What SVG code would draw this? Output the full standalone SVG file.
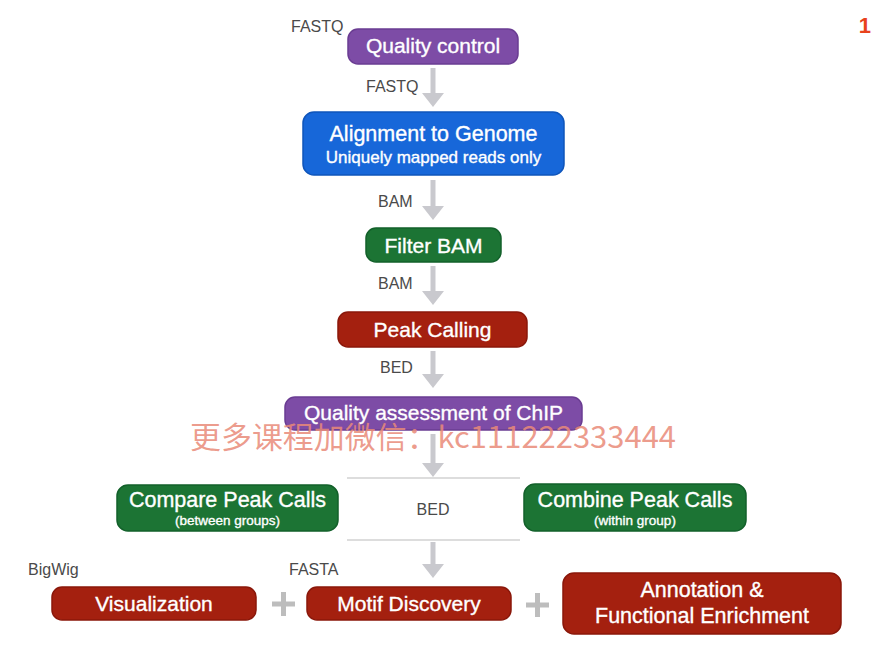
<svg xmlns="http://www.w3.org/2000/svg" width="873" height="651" viewBox="0 0 873 651">
<defs>
<style>
.t{font-family:"Liberation Sans",Arial,sans-serif;fill:#fff;text-anchor:middle;stroke:#fff;stroke-width:0.35}
.lbl{font-family:"Liberation Sans",Arial,sans-serif;fill:#4a4a4a;font-size:16px}
.purple{fill:#7d4ca6;stroke:#6a3c92;stroke-width:1.5}
.blue{fill:#1767d9;stroke:#0f55bb;stroke-width:1.5}
.green{fill:#1c7434;stroke:#12602a;stroke-width:1.5}
.red{fill:#a4200f;stroke:#8a170a;stroke-width:1.5}
.shaft{stroke:#c9c9ce;stroke-width:5;fill:none}
.head{fill:#c9c9ce}
.sep{stroke:#d2d2d2;stroke-width:1.5}
.plus{stroke:#bdbdbd;stroke-width:5}
</style>
</defs>
<rect width="873" height="651" fill="#fff"/>

<g id="connectors">
<line class="shaft" x1="433" y1="68" x2="433" y2="94"/><polygon class="head" points="422,93 444,93 433,107"/>
<line class="shaft" x1="433" y1="180" x2="433" y2="207"/><polygon class="head" points="422,206 444,206 433,220"/>
<line class="shaft" x1="433" y1="266" x2="433" y2="292"/><polygon class="head" points="422,291 444,291 433,305"/>
<line class="shaft" x1="433" y1="351" x2="433" y2="375"/><polygon class="head" points="422,374 444,374 433,388"/>
<line class="shaft" x1="433" y1="434" x2="433" y2="464"/><polygon class="head" points="422,463 444,463 433,477"/>
<line class="shaft" x1="433" y1="542" x2="433" y2="565"/><polygon class="head" points="422,564 444,564 433,578"/>
<line class="sep" x1="347" y1="478" x2="520" y2="478"/>
<line class="sep" x1="347" y1="540" x2="520" y2="540"/>
<line class="plus" x1="272" y1="604" x2="295" y2="604"/><line class="plus" x1="283.5" y1="592" x2="283.5" y2="616"/>
<line class="plus" x1="526" y1="605" x2="549" y2="605"/><line class="plus" x1="537.5" y1="593" x2="537.5" y2="617"/>
</g>

<g id="labels">
<text class="lbl" x="291" y="32">FASTQ</text>
<text class="lbl" x="366" y="92">FASTQ</text>
<text class="lbl" x="378" y="207">BAM</text>
<text class="lbl" x="378" y="289">BAM</text>
<text class="lbl" x="380" y="373">BED</text>
<text class="lbl" x="433" y="515" text-anchor="middle">BED</text>
<text class="lbl" x="28" y="575">BigWig</text>
<text class="lbl" x="289" y="575">FASTA</text>
</g>

<g id="quality-control">
<rect class="purple" x="348" y="29" width="170" height="35" rx="10"/>
<text class="t" x="433" y="53" font-size="21">Quality control</text>
</g>

<g id="alignment">
<rect class="blue" x="303" y="112" width="261" height="63" rx="11"/>
<text class="t" x="433.5" y="141" font-size="21.5">Alignment to Genome</text>
<text class="t" x="433.5" y="163" font-size="17">Uniquely mapped reads only</text>
</g>

<g id="filter-bam">
<rect class="green" x="366" y="228" width="135" height="34" rx="10"/>
<text class="t" x="433.5" y="253" font-size="21">Filter BAM</text>
</g>

<g id="peak-calling">
<rect class="red" x="338" y="312" width="189" height="35" rx="10"/>
<text class="t" x="432.5" y="337" font-size="21">Peak Calling</text>
</g>

<g id="quality-assessment">
<rect class="purple" x="285" y="397" width="297" height="33" rx="10"/>
<text class="t" x="433.5" y="420" font-size="21">Quality assessment of ChIP</text>
</g>

<g id="compare-peak-calls">
<rect class="green" x="117" y="485" width="221" height="46" rx="11"/>
<text class="t" x="227.5" y="507" font-size="21.5">Compare Peak Calls</text>
<text class="t" x="227.5" y="525" font-size="13.5" stroke-width="0.2">(between groups)</text>
</g>

<g id="combine-peak-calls">
<rect class="green" x="524" y="484" width="222" height="47" rx="11"/>
<text class="t" x="635" y="507" font-size="21.5">Combine Peak Calls</text>
<text class="t" x="635" y="525" font-size="13.5" stroke-width="0.2">(within group)</text>
</g>

<g id="visualization">
<rect class="red" x="52" y="587" width="204" height="33" rx="10"/>
<text class="t" x="154" y="611" font-size="21">Visualization</text>
</g>

<g id="motif-discovery">
<rect class="red" x="307" y="587" width="204" height="33" rx="10"/>
<text class="t" x="409" y="611" font-size="21">Motif Discovery</text>
</g>

<g id="annotation">
<rect class="red" x="563" y="573" width="278" height="61" rx="11"/>
<text class="t" x="702" y="597" font-size="21.5">Annotation &amp;</text>
<text class="t" x="702" y="623" font-size="21.5">Functional Enrichment</text>
</g>

<text x="871" y="33" font-family="Liberation Sans,Arial,sans-serif" font-weight="bold" font-size="22" fill="#e8421c" text-anchor="end">1</text>

<text x="190" y="448" textLength="486" lengthAdjust="spacingAndGlyphs" font-family="'Noto Sans CJK SC','Noto Sans',sans-serif" font-size="30" fill="#e98a78" fill-opacity="0.85">更多课程加微信：kc111222333444</text>
</svg>
